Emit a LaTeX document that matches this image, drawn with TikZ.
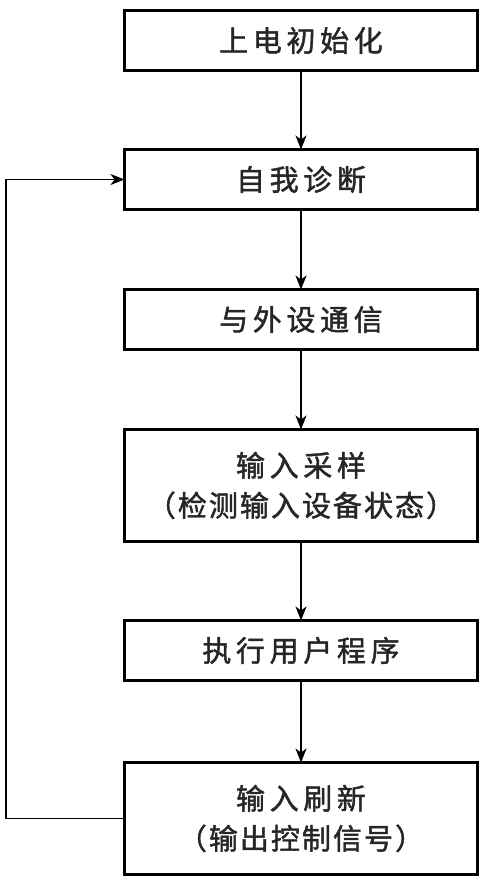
\documentclass[tikz,border=0pt]{standalone}
\usepackage{fontspec}
\usepackage{tikz}
\usepackage{xcolor}
\newfontfamily\cjk[LetterSpace=16, FakeBold=1.5]{Noto Sans CJK SC}
\newfontfamily\cjknarrow[LetterSpace=7, FakeBold=1.5]{Noto Sans CJK SC}
\usetikzlibrary{positioning,arrows.meta}

\tikzset{
    procbox/.style = {draw, line width = 2.4bp, minimum width = 353bp, minimum height = 60bp,
        inner sep = 0pt, outer sep = 0pt, align = center, text = black!85,
        font = \cjk\fontsize{29bp}{40bp}\selectfont},
    tallbox/.style = {procbox, minimum height = 112bp},
    flow/.style = {line width = 1.6bp, -{Stealth[length = 14bp, width = 11bp, inset = 4bp]}}
}

\begin{document}
\begin{tikzpicture}
        \useasboundingbox (0,0) rectangle (500bp,-881bp);
        \node [procbox] (I) at (301bp,-40.5bp) {上电初始化};
        \node [procbox] (D) [below = 79bp of I] {自我诊断};
        \node [procbox] (C) [below = 80bp of D] {与外设通信};
        \node [tallbox] (S) [below = 80bp of C] {输入采样\\\cjknarrow（检测输入设备状态）};
        \node [procbox] (U) [below = 79bp of S] {执行用户程序};
        \node [tallbox] (R) [below = 82bp of U] {输入刷新\\\cjknarrow（输出控制信号）};
        \coordinate (L) at (6bp,0);

        \path[flow]
            (I) edge (D)
            (D) edge (C)
            (C) edge (S)
            (S) edge (U)
            (U) edge (R);
        \draw[flow] (R.west) -- (R.west -| L) |- (D.west);
    \end{tikzpicture}
\end{document}
